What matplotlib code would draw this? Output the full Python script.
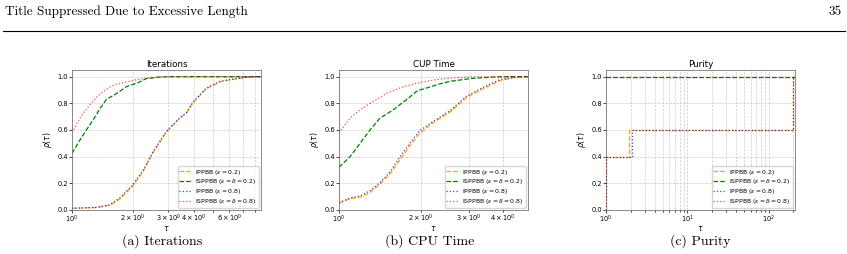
import matplotlib
matplotlib.use("Agg")
import matplotlib.pyplot as plt

# ---- data ----
labels = [r"IPPBB ($\varepsilon = 0.2$)",
          r"ISPPBB ($\varepsilon = \delta = 0.2$)",
          r"IPPBB ($\varepsilon = 0.8$)",
          r"ISPPBB ($\varepsilon = \delta = 0.8$)"]

# Iterations
it_tau_low = [1.0, 1.32, 1.54, 1.72, 2.0, 2.25, 2.52, 2.93, 3.41, 3.68, 3.97, 4.62, 5.38, 6.0, 7.3, 8.0, 8.6]
it_ippbb_02 = [0.013, 0.018, 0.035, 0.08, 0.18, 0.29, 0.43, 0.585, 0.69, 0.725, 0.805, 0.91, 0.96, 0.975, 0.995, 1.0, 1.0]
it_ippbb_08 = [0.013, 0.02, 0.04, 0.09, 0.19, 0.30, 0.44, 0.59, 0.69, 0.73, 0.81, 0.915, 0.965, 0.978, 0.995, 1.0, 1.0]
it_tau_high = [1.0, 1.095, 1.16, 1.227, 1.32, 1.375, 1.48, 1.54, 1.63, 1.86, 1.93, 2.09, 2.33, 2.7, 3.0, 8.6]
it_isppbb_02 = [0.425, 0.525, 0.585, 0.64, 0.715, 0.76, 0.83, 0.845, 0.865, 0.925, 0.935, 0.95, 0.985, 0.997, 1.0, 1.0]
it_isppbb_08 = [0.58, 0.69, 0.745, 0.79, 0.845, 0.87, 0.905, 0.922, 0.94, 0.96, 0.965, 0.978, 0.99, 0.998, 1.0, 1.0]

# CUP Time
ct_tau_low = [1.0, 1.098, 1.195, 1.30, 1.415, 1.54, 1.675, 1.82, 1.98, 2.22, 2.56, 2.95, 3.39, 3.9, 4.4, 4.8, 4.95]
ct_ippbb_02 = [0.05, 0.085, 0.095, 0.13, 0.195, 0.27, 0.375, 0.48, 0.575, 0.655, 0.735, 0.845, 0.91, 0.97, 0.993, 1.0, 1.0]
ct_ippbb_08 = [0.055, 0.09, 0.105, 0.145, 0.205, 0.285, 0.40, 0.50, 0.595, 0.665, 0.745, 0.855, 0.92, 0.978, 0.996, 1.0, 1.0]
ct_tau_high = [1.0, 1.098, 1.195, 1.30, 1.415, 1.497, 1.58, 1.675, 1.77, 1.93, 1.98, 2.22, 2.29, 2.56, 3.03, 3.1, 3.69, 4.0, 4.95]
ct_isppbb_02 = [0.32, 0.40, 0.50, 0.60, 0.69, 0.72, 0.75, 0.79, 0.827, 0.89, 0.90, 0.93, 0.94, 0.965, 0.985, 0.987, 0.997, 1.0, 1.0]
ct_isppbb_08 = [0.577, 0.69, 0.75, 0.80, 0.845, 0.875, 0.895, 0.915, 0.93, 0.95, 0.955, 0.975, 0.978, 0.99, 0.998, 1.0, 1.0, 1.0, 1.0]

# Purity (step profiles)
pu_tau_a = [1.0, 1.0, 1.9, 200.0, 210.0]
pu_ippbb_02 = [0.0, 0.4, 0.6, 1.0, 1.0]
pu_tau_b = [1.0, 1.0, 2.08, 200.0, 210.0]
pu_ippbb_08 = [0.0, 0.4, 0.6, 1.0, 1.0]
pu_tau_c = [1.0, 210.0]
pu_isppbb_02 = [1.0, 1.0]
pu_isppbb_08 = [1.0, 1.0]

titles = ["Iterations", "CUP Time", "Purity"]
captions = ["(a) Iterations", "(b) CPU Time", "(c) Purity"]
xmax = [8.6, 4.95, 210]

styles = [dict(color="orange", ls="--", lw=0.9),
          dict(color="green", ls="--", lw=0.9),
          dict(color="blue", ls=":", lw=0.9, alpha=0.75),
          dict(color="red", ls=":", lw=0.9, alpha=0.7)]

fig = plt.figure(figsize=(8.47, 2.54), dpi=100)

# page header
fig.text(5 / 847, 1 - 12 / 254, "Title Suppressed Due to Excessive Length",
         family="cmr10", fontsize=9.5, va="center", ha="left")
fig.text(842 / 847, 1 - 12 / 254, "35", family="cmr10", fontsize=9.5,
         va="center", ha="right")
fig.add_artist(plt.Line2D([3 / 847, 845 / 847], [1 - 31 / 254, 1 - 31 / 254],
                          color="black", lw=0.8))

series = [
    [(it_tau_low, it_ippbb_02), (it_tau_high, it_isppbb_02),
     (it_tau_low, it_ippbb_08), (it_tau_high, it_isppbb_08)],
    [(ct_tau_low, ct_ippbb_02), (ct_tau_high, ct_isppbb_02),
     (ct_tau_low, ct_ippbb_08), (ct_tau_high, ct_isppbb_08)],
    [(pu_tau_a, pu_ippbb_02), (pu_tau_c, pu_isppbb_02),
     (pu_tau_b, pu_ippbb_08), (pu_tau_c, pu_isppbb_08)],
]

lefts = [72, 339, 606]
cap_x = [162, 430, 700]
for i in range(3):
    ax = fig.add_axes([lefts[i] / 847, 1 - 210 / 254, 189 / 847, 140 / 254])
    for (t, r), st, lab in zip(series[i], styles, labels):
        if i == 2:
            ax.plot(t, r, drawstyle="steps-post", label=lab, zorder=3, **st)
        else:
            ax.plot(t, r, label=lab, **st)
    ax.set_xscale("log")
    ax.set_xlim(1, xmax[i])
    ax.set_ylim(0, 1.05)
    ax.grid(True, which="both", ls="--", lw=0.5, color="#cccccc")
    ax.set_title(titles[i], fontsize=6.3, pad=2)
    ax.set_xlabel(r"$\tau$", fontsize=5.5, labelpad=-1)
    ax.set_ylabel(r"$\rho(\tau)$", fontsize=5.5, labelpad=2)
    ax.tick_params(which="both", labelsize=4.8, length=2, width=0.5, pad=1)
    ax.tick_params(which="minor", length=1.2)
    for sp in ax.spines.values():
        sp.set_linewidth(0.6)
        sp.set_color("#777777")
    ax.legend(loc="lower right", fontsize=4.4, handlelength=2.0,
              borderpad=0.3, labelspacing=0.12, handletextpad=0.6,
              borderaxespad=0.4)
    fig.text(cap_x[i] / 847, 1 - 241 / 254, captions[i], family="cmr10",
             fontsize=10, ha="center", va="center")

fig.savefig("out.png", dpi=100)
